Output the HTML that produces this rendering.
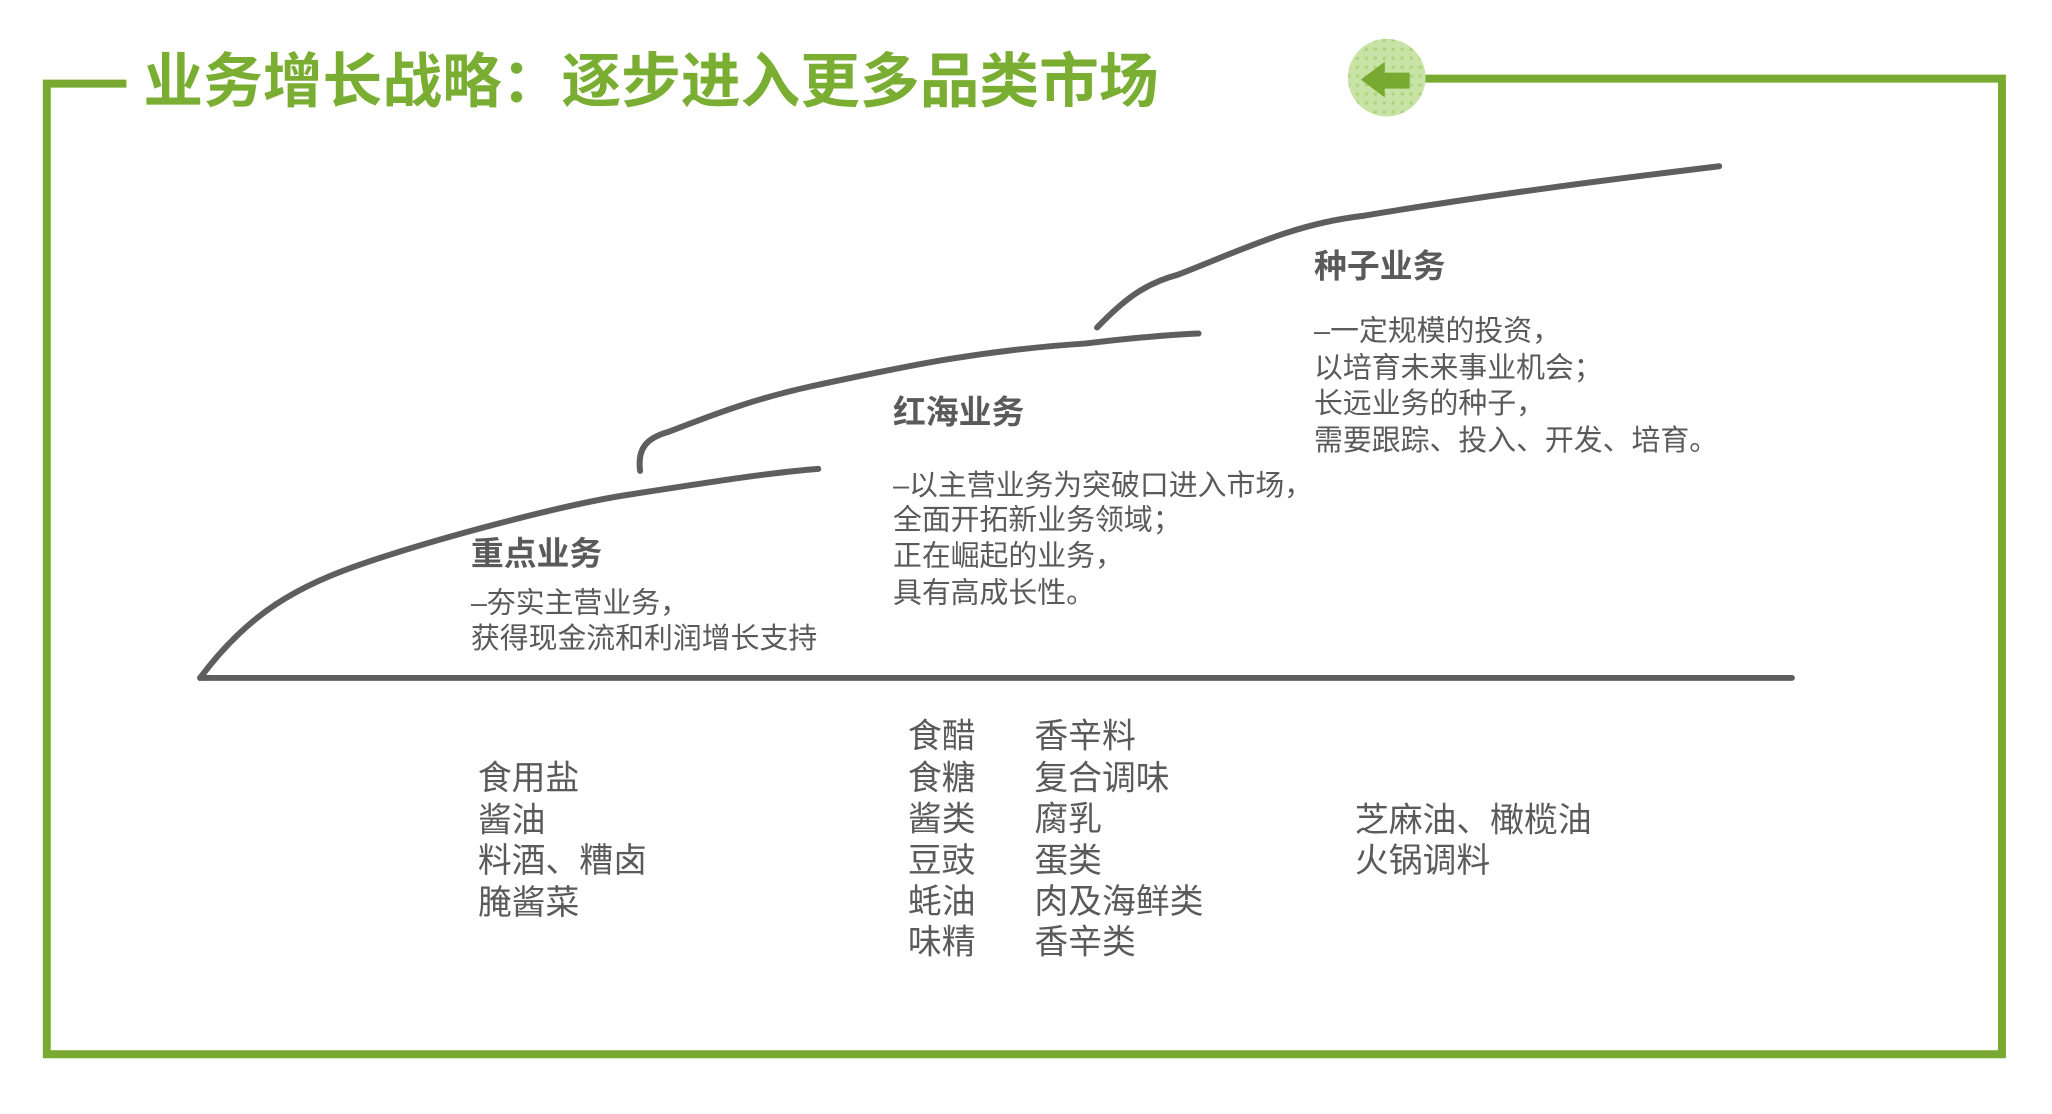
<!DOCTYPE html>
<html><head><meta charset="utf-8"><style>
html,body{margin:0;padding:0;background:#fff}
svg{display:block}
text{font-family:"Liberation Sans","Noto Sans CJK SC",sans-serif;fill:#5a5a5a}
.h{font-size:33px;font-weight:bold}
.b{font-size:29px}
.l{font-size:34px}
</style></head><body>
<svg width="2052" height="1114" viewBox="0 0 2052 1114" xmlns="http://www.w3.org/2000/svg">
<defs>
<pattern id="dots" width="9" height="9" patternUnits="userSpaceOnUse">
<rect width="9" height="9" fill="#c8e3a5"/><rect x="3" y="3" width="3" height="3" fill="#a9d57a"/>
</pattern>
</defs>
<g transform="scale(0.9955)">
<g fill="none" stroke="#78aa31" stroke-width="8">
<polyline points="127,84 47,84 47,1059 2011,1059 2011,79 1423,79"/>
</g>
<circle cx="1393" cy="78" r="39" fill="url(#dots)"/>
<polygon points="1367,80 1391,62 1391,73 1416,73 1416,89 1391,89 1391,98" fill="#78aa31"/>
<text x="144" y="82" dominant-baseline="central" style="font-size:60px;font-weight:bold;fill:#7aae33">业务增长战略：逐步进入更多品类市场</text>
<g fill="none" stroke="#5e5e5e" stroke-width="6" stroke-linecap="round">
<line x1="201" y1="681" x2="1800" y2="681"/>
<path d="M201,681 C250,615 300,588 368,565 S560,508 631,497 S770,475 822,471"/>
<path d="M643,473 C640,450 650,440 671,434 C720,415 760,400 815,388 C900,370 980,352 1091,345 C1150,338 1180,336 1204,335"/>
<path d="M1102,329 C1130,300 1150,285 1183,276 C1250,250 1300,225 1368,217 C1500,195 1620,180 1727,167"/>
</g>
<text class="h" x="473" y="556" dominant-baseline="central">重点业务</text>
<text class="b" x="473" y="606" dominant-baseline="central">–夯实主营业务，</text>
<text class="b" x="473" y="642" dominant-baseline="central">获得现金流和利润增长支持</text>
<text class="h" x="897" y="414" dominant-baseline="central">红海业务</text>
<text class="b" x="897" y="488" dominant-baseline="central">–以主营业务为突破口进入市场，</text>
<text class="b" x="897" y="523" dominant-baseline="central">全面开拓新业务领域；</text>
<text class="b" x="897" y="559" dominant-baseline="central">正在崛起的业务，</text>
<text class="b" x="897" y="596" dominant-baseline="central">具有高成长性。</text>
<text class="h" x="1320" y="267" dominant-baseline="central">种子业务</text>
<text class="b" x="1320" y="333" dominant-baseline="central">–一定规模的投资，</text>
<text class="b" x="1320" y="370" dominant-baseline="central">以培育未来事业机会；</text>
<text class="b" x="1320" y="406" dominant-baseline="central">长远业务的种子，</text>
<text class="b" x="1320" y="443" dominant-baseline="central">需要跟踪、投入、开发、培育。</text>
<text class="l" x="480" y="782" dominant-baseline="central">食用盐</text>
<text class="l" x="480" y="824" dominant-baseline="central">酱油</text>
<text class="l" x="480" y="865" dominant-baseline="central">料酒、糟卤</text>
<text class="l" x="480" y="907" dominant-baseline="central">腌酱菜</text>
<text class="l" x="912" y="740" dominant-baseline="central">食醋</text>
<text class="l" x="912" y="782" dominant-baseline="central">食糖</text>
<text class="l" x="912" y="823" dominant-baseline="central">酱类</text>
<text class="l" x="912" y="865" dominant-baseline="central">豆豉</text>
<text class="l" x="912" y="906" dominant-baseline="central">蚝油</text>
<text class="l" x="912" y="947" dominant-baseline="central">味精</text>
<text class="l" x="1039" y="740" dominant-baseline="central">香辛料</text>
<text class="l" x="1039" y="782" dominant-baseline="central">复合调味</text>
<text class="l" x="1039" y="823" dominant-baseline="central">腐乳</text>
<text class="l" x="1039" y="865" dominant-baseline="central">蛋类</text>
<text class="l" x="1039" y="906" dominant-baseline="central">肉及海鲜类</text>
<text class="l" x="1039" y="947" dominant-baseline="central">香辛类</text>
<text class="l" x="1361" y="824" dominant-baseline="central">芝麻油、橄榄油</text>
<text class="l" x="1361" y="865" dominant-baseline="central">火锅调料</text>
</g>
</svg>
</body></html>
